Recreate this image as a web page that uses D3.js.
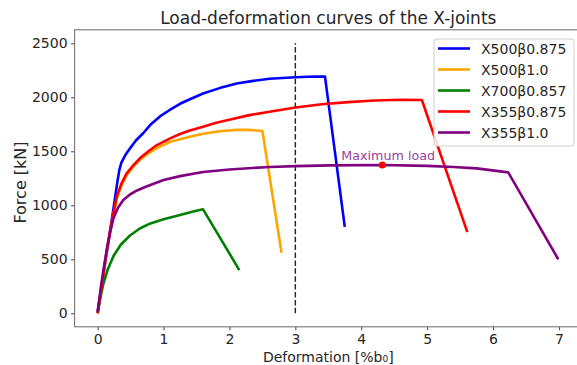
<!DOCTYPE html>
<html>
<head>
  <title>Load-deformation curves</title>
  <style>
    body { margin: 0; background: #fff; }
    text { font-family: "DejaVu Sans", sans-serif; fill: #262626; }
    .tick line { stroke: #444; }
  </style>
</head>
<body>
  <svg id="chart"></svg>

  <script src="https://d3js.org/d3.v7.min.js"></script>
  <script>
    // chart data
    var seriesNames = ["X500β0.875", "X500β1.0", "X700β0.857", "X355β0.875", "X355β1.0"];
    var seriesColors = ["blue", "orange", "green", "red", "purple"];

    var blue = [[0,15],[0.08,330],[0.16,650],[0.24,970],[0.3,1220],[0.33,1330],[0.36,1395],[0.42,1465],
      [0.49,1525],[0.58,1600],[0.69,1667],[0.8,1745],[0.95,1825],[1.1,1885],[1.25,1940],[1.4,1982],
      [1.6,2035],[1.85,2085],[2.11,2128],[2.36,2152],[2.61,2172],[3.0,2186],[3.3,2192],[3.45,2191],
      [3.75,800]];
    var orange = [[0,0],[0.08,320],[0.14,580],[0.19,750],[0.24,910],[0.29,1060],[0.36,1180],[0.44,1280],
      [0.54,1355],[0.64,1420],[0.77,1480],[0.9,1530],[1.1,1588],[1.25,1612],[1.4,1635],[1.6,1662],
      [1.85,1685],[2.11,1698],[2.3,1698],[2.46,1690],[2.5,1687],[2.79,560]];
    var green = [[0,0],[0.04,140],[0.085,270],[0.15,400],[0.24,530],[0.35,635],[0.49,720],[0.64,785],
      [0.79,830],[1.0,870],[1.25,910],[1.45,942],[1.6,963],[2.15,400]];
    var red = [[0,0],[0.08,330],[0.14,600],[0.19,770],[0.24,930],[0.29,1080],[0.36,1200],[0.44,1296],
      [0.54,1370],[0.64,1435],[0.77,1500],[0.9,1558],[1.1,1620],[1.25,1660],[1.4,1692],[1.6,1728],
      [1.8,1765],[2.03,1796],[2.3,1835],[2.61,1867],[3.0,1905],[3.4,1935],[3.8,1955],[4.2,1970],
      [4.6,1977],[4.92,1975],[5.61,752]];
    var purple = [[0,15],[0.05,250],[0.1,450],[0.14,586],[0.19,750],[0.24,880],[0.31,980],[0.39,1050],
      [0.49,1100],[0.59,1135],[0.72,1170],[0.84,1197],[1.0,1235],[1.25,1270],[1.6,1308],[2.0,1332],
      [2.61,1355],[3.0,1363],[3.53,1370],[4.32,1373],[5.0,1365],[5.4,1355],[5.75,1342],[6.23,1305],
      [6.99,500]];
    var seriesData = [blue, orange, green, red, purple];

    var maxLoadPoint = [4.32, 1373];
    var maxLoadLabel = "Maximum load";
    var limitLine = [[3, 0], [3, 2500]];

    var xTicks = [0, 1, 2, 3, 4, 5, 6, 7];
    var yTicks = [0, 500, 1000, 1500, 2000, 2500];

    var width = 577, height = 365;
    var plotL = 74.6, plotR = 582, plotT = 29.8, plotB = 326.8;

    var svg = d3.select("#chart")
      .attr("width", width)
      .attr("height", height);

    var x = d3.scaleLinear().domain([-0.35, 7.35]).range([plotL, plotR]);
    var y = d3.scaleLinear().domain([-125, 2625]).range([plotB, plotT]);

    svg.append("defs").append("clipPath").attr("id", "plotclip")
      .append("rect").attr("x", plotL).attr("y", plotT)
      .attr("width", plotR - plotL).attr("height", plotB - plotT);

    // axes
    var xAxis = svg.append("g")
      .attr("transform", "translate(0," + plotB + ")")
      .call(d3.axisBottom(x).tickValues(xTicks).tickSize(3.5).tickPadding(3.5).tickFormat(d3.format("d")));
    var yAxis = svg.append("g")
      .attr("transform", "translate(" + plotL + ",0)")
      .call(d3.axisLeft(y).tickValues(yTicks).tickSize(3.5).tickPadding(3.5).tickFormat(d3.format("d")));
    [xAxis, yAxis].forEach(function(a) {
      a.select(".domain").remove();
      a.selectAll("text").style("font-size", "14px").style("font-family", "DejaVu Sans");
    });

    // frame
    svg.append("rect")
      .attr("x", plotL).attr("y", plotT)
      .attr("width", plotR - plotL).attr("height", plotB - plotT)
      .attr("fill", "none").attr("stroke", "#777").attr("stroke-width", 1.1);

    var plot = svg.append("g").attr("clip-path", "url(#plotclip)");

    // dashed reference line at 3 %b0
    plot.append("path")
      .attr("d", d3.line().x(function(d) { return x(d[0]); }).y(function(d) { return y(d[1]); })(limitLine))
      .attr("stroke", "#222").attr("stroke-width", 1.4)
      .attr("stroke-dasharray", "5.5,2.4").attr("fill", "none");

    var line = d3.line()
      .x(function(d) { return x(d[0]); })
      .y(function(d) { return y(d[1]); });

    plot.selectAll(".curve")
      .data(seriesData)
      .enter().append("path")
      .attr("class", "curve")
      .attr("d", line)
      .attr("fill", "none")
      .attr("stroke", function(d, i) { return seriesColors[i]; })
      .attr("stroke-width", 2.6)
      .attr("stroke-linejoin", "round");

    // maximum load marker
    plot.append("circle")
      .attr("cx", x(maxLoadPoint[0])).attr("cy", y(maxLoadPoint[1]))
      .attr("r", 3.5).attr("fill", "red");
    svg.append("text")
      .attr("x", x(maxLoadPoint[0]) - 41).attr("y", y(maxLoadPoint[1]) - 5)
      .style("font-size", "12.7px").style("fill", "purple").style("fill-opacity", 0.8)
      .text(maxLoadLabel);

    // title and labels
    svg.append("text")
      .attr("x", (plotL + plotR) / 2).attr("y", 24)
      .attr("text-anchor", "middle")
      .style("font-size", "17px")
      .text("Load-deformation curves of the X-joints");

    var xl = svg.append("text")
      .attr("x", (plotL + plotR) / 2).attr("y", 361.5)
      .attr("text-anchor", "middle")
      .style("font-size", "14px");
    xl.append("tspan").text("Deformation [%b");
    xl.append("tspan").style("font-size", "9px").text("0");
    xl.append("tspan").text("]");

    svg.append("text")
      .attr("transform", "translate(26,182.5) rotate(-90)")
      .attr("text-anchor", "middle")
      .style("font-size", "16px")
      .text("Force [kN]");

    // legend
    var lg = svg.append("g");
    lg.append("rect")
      .attr("x", 434).attr("y", 39).attr("width", 140).attr("height", 107)
      .attr("rx", 3).attr("fill", "#fff").attr("fill-opacity", 0.85)
      .attr("stroke", "#d0d0d0");
    seriesNames.forEach(function(name, i) {
      var ly = 48.5 + i * 21;
      lg.append("line")
        .attr("x1", 438).attr("x2", 470).attr("y1", ly).attr("y2", ly)
        .attr("stroke", seriesColors[i]).attr("stroke-width", 2.6);
      lg.append("text")
        .attr("x", 481).attr("y", ly + 5)
        .style("font-size", "14px")
        .text(name);
    });
  </script>
</body>
</html>
